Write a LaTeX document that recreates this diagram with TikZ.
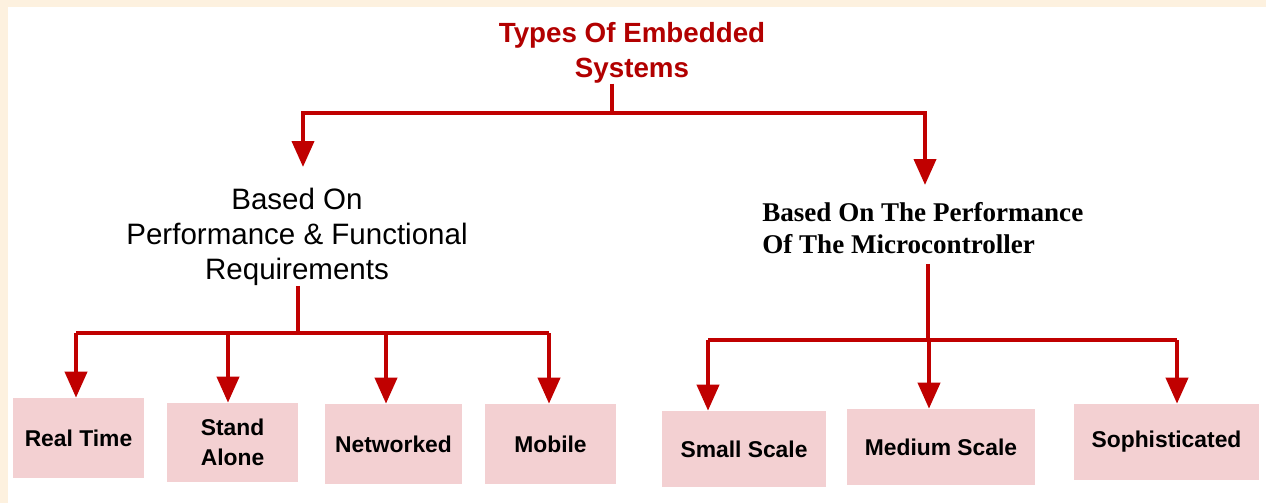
\documentclass[tikz,border=0pt]{standalone}
\usepackage{fontspec}
\setmainfont{Liberation Sans}
\newfontfamily\serifface{Liberation Serif}
\usetikzlibrary{arrows.meta}
\definecolor{treered}{RGB}{192,0,0}
\definecolor{titlered}{RGB}{178,0,0}
\definecolor{boxpink}{RGB}{243,208,210}
\definecolor{pagebeige}{RGB}{253,241,223}
\tikzset{
    x=0.02cm, y=-0.02cm, % one unit is one pixel of the reference
    branch/.style={draw=treered, line width=0.08cm}, % the red tree lines
    drop/.style={branch, -{Triangle[width=0.44cm,length=0.52cm]}}, % lines that end in an arrow
    kind/.style={fill=boxpink, inner sep=0pt, minimum height=1.58cm, align=center,
        font=\bfseries\fontsize{13}{17}\selectfont}, % the pink boxes at the bottom
}

\begin{document}
\begin{tikzpicture}
    \useasboundingbox (0,0) rectangle (1266,503);
    \fill[pagebeige] (0,0) rectangle (1266,503);
    \fill[white] (8,7) rectangle (1266,503);

    % top and middle
    \node[text=titlered, align=center, inner sep=0pt, font=\bfseries\fontsize{15.8}{19.8}\selectfont] (types) at (632,53) {Types Of Embedded\\Systems};
    \node[align=center, inner sep=0pt, font=\fontsize{16.8}{19.8}\selectfont] (perf) at (297,237) {Based On\\Performance \& Functional\\Requirements};
    \node[anchor=west, align=left, inner sep=0pt, font=\serifface\bfseries\fontsize{15.4}{18.1}\selectfont] (mic) at (762,228) {Based On The Performance\\Of The Microcontroller};

    % bottom boxes
    \node[kind, minimum width=2.62cm, minimum height=1.6cm] (rt) at (78.5,438) {Real Time};
    \node[kind, minimum width=2.62cm] (sa) at (232.5,442.5) {Stand\\Alone};
    \node[kind, minimum width=2.74cm, minimum height=1.6cm] (nw) at (393.5,444) {Networked};
    \node[kind, minimum width=2.62cm, minimum height=1.6cm] (mb) at (550.5,444) {Mobile};
    \node[kind, minimum width=3.28cm, minimum height=1.52cm] (ss) at (744,449) {Small Scale};
    \node[kind, minimum width=3.76cm, minimum height=1.52cm] (ms) at (941,447) {Medium Scale};
    \node[kind, minimum width=3.70cm, minimum height=1.52cm] (sp) at (1166.5,442) {Sophisticated};

    % where the lines split
    \coordinate (j0) at (612,113);
    \coordinate (perf-in) at (303,167);
    \coordinate (mic-in) at (925,185);
    \coordinate (j1) at (298,333);
    \coordinate (rt-drop) at (76,333);
    \coordinate (sa-drop) at (228,333);
    \coordinate (nw-drop) at (386,333);
    \coordinate (mb-drop) at (549,333);
    \coordinate (j2) at (928,340);
    \coordinate (ss-drop) at (708,340);
    \coordinate (ms-drop) at (929,340);
    \coordinate (sp-drop) at (1177,340);

    \draw[branch] (types.south -| j0) -- (j0);
    \draw[drop] (j0) -| (perf-in);
    \draw[drop] (j0) -| (mic-in);

    \draw[branch] (perf.south -| j1) -- (j1);
    \draw[branch] (rt-drop) -- (mb-drop);
    \foreach \b in {rt, sa, nw, mb}
        \draw[drop] (\b-drop) -- (\b-drop |- \b.north);

    \draw[branch] ([yshift=-0.2cm]mic.south -| j2) -- (j2);
    \draw[branch] (ss-drop) -- (sp-drop);
    \foreach \b in {ss, ms, sp}
        \draw[drop] (\b-drop) -- (\b-drop |- \b.north);
\end{tikzpicture}
\end{document}
